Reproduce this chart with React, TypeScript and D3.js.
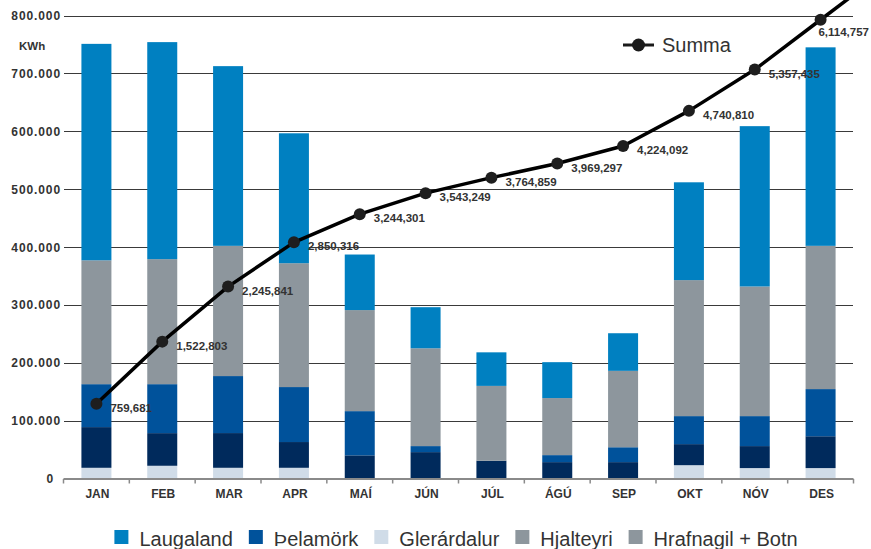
import * as React from 'react';
import * as d3 from 'd3';

const WIDTH = 871, HEIGHT = 549;

const months = ['JAN', 'FEB', 'MAR', 'APR', 'MAÍ', 'JÚN', 'JÚL', 'ÁGÚ', 'SEP', 'OKT', 'NÓV', 'DES'];

// stacked from the bottom up
const glerardalur = [18500, 22000, 18500, 18500, 0, 0, 0, 0, 0, 23000, 18000, 18000];
const hrafnagilBotn = [70300, 56400, 60000, 44500, 40000, 45600, 30700, 28300, 28300, 36400, 38000, 55000];
const thelamork = [74200, 84600, 98500, 95000, 76400, 10400, 0, 12100, 25700, 48400, 51800, 81500];
const hjalteyri = [214000, 216000, 225000, 214000, 174600, 169000, 129300, 98600, 132000, 235000, 224000, 247500];
const laugaland = [374000, 375000, 310500, 224500, 96000, 71000, 58000, 62000, 65000, 169000, 277000, 343000];

const summa = [759681, 1522803, 2245841, 2850316, 3244301, 3543249, 3764859, 3969297, 4224092, 4740810, 5357435, 6114757];

const yTicks = [0, 100000, 200000, 300000, 400000, 500000, 600000, 700000, 800000];

const stackKeys = ['Glerárdalur', 'Hrafnagil + Botn', 'Þelamörk', 'Hjalteyri', 'Laugaland'];
const stackValues = [glerardalur, hrafnagilBotn, thelamork, hjalteyri, laugaland];
const stackColors = ['#d0dce8', '#002a5c', '#00529b', '#8d969d', '#0080c1'];

const legendNames = ['Laugaland', 'Þelamörk', 'Glerárdalur', 'Hjalteyri', 'Hrafnagil + Botn'];
const legendColors = ['#0080c1', '#00529b', '#d0dce8', '#8d969d', '#8d969d'];

class App extends React.Component {

  // tslint:disable-next-line:no-any
  svgRef: React.RefObject<any>;

  constructor(props: {}) {
    super(props);
    this.svgRef = React.createRef();
  }

  componentDidMount() {
    document.body.style.margin = '0';

    const svg = d3
      .select(this.svgRef.current)
      .attr('width', WIDTH)
      .attr('height', HEIGHT)
      .style('display', 'block')
      .style('font-family', '"Liberation Sans", Arial, sans-serif');
    svg.selectAll('*').remove();

    const x = d3.scaleBand<string>().domain(months).range([63.5, 853.5]);
    const y = d3.scaleLinear().domain([0, 800000]).range([478.5, 15.5]);
    // the cumulative line sits on its own hidden axis
    const ySum = d3.scalePow().exponent(0.87).domain([0, 6180000]).range([y(0), y(800000)]);
    const cx = (m: string) => (x(m) as number) + x.bandwidth() / 2;
    const barW = 30;

    // gridlines + y labels
    svg.append('g')
      .selectAll('line')
      .data(yTicks.slice(1))
      .join('line')
      .attr('x1', 64).attr('x2', 853)
      .attr('y1', d => Math.round(y(d)) + 0.5)
      .attr('y2', d => Math.round(y(d)) + 0.5)
      .attr('stroke', '#3a3a3a')
      .attr('stroke-width', 1);

    const fmtTick = (v: number) => d3.format(',')(v).replace(/,/g, '.');
    svg.append('g')
      .selectAll('text')
      .data(yTicks)
      .join('text')
      .attr('x', d => d === 0 ? 54 : 61)
      .attr('y', d => y(d) + 4.5)
      .attr('text-anchor', 'end')
      .attr('font-size', 12)
      .attr('font-weight', 'bold')
      .attr('letter-spacing', 0.9)
      .attr('fill', '#333')
      .text(fmtTick);

    svg.append('text')
      .attr('x', 19).attr('y', 50)
      .attr('font-size', 11.5)
      .attr('font-weight', 'bold')
      .attr('fill', '#333')
      .text('KWh');

    // stacked bars
    const rows = months.map((m, i) => {
      const row: { [k: string]: number | string } = { month: m };
      stackKeys.forEach((k, j) => { row[k] = stackValues[j][i]; });
      return row;
    });
    // tslint:disable-next-line:no-any
    const series = d3.stack<any>().keys(stackKeys)(rows);

    svg.append('g')
      .selectAll('g')
      .data(series)
      .join('g')
      .attr('fill', (d, i) => stackColors[i])
      .selectAll('rect')
      .data(d => d)
      .join('rect')
      .attr('x', d => cx(d.data.month) - barW / 2)
      .attr('width', barW)
      .attr('y', d => y(d[1]))
      .attr('height', d => y(d[0]) - y(d[1]));

    // x axis
    const axis = svg.append('g');
    axis.append('line')
      .attr('x1', 63.5).attr('x2', 853.5)
      .attr('y1', 479).attr('y2', 479)
      .attr('stroke', '#8a8a8a')
      .attr('stroke-width', 2);
    const edges = months.map(m => x(m) as number).concat([x.range()[1]]);
    axis.selectAll('line.tick')
      .data(edges)
      .join('line')
      .attr('class', 'tick')
      .attr('x1', d => d).attr('x2', d => d)
      .attr('y1', 479).attr('y2', 483.5)
      .attr('stroke', '#8a8a8a')
      .attr('stroke-width', 1.5);
    axis.selectAll('text')
      .data(months)
      .join('text')
      .attr('x', d => cx(d) + 1)
      .attr('y', 498)
      .attr('text-anchor', 'middle')
      .attr('font-size', 12)
      .attr('font-weight', 'bold')
      .attr('fill', '#333')
      .text(d => d);

    // cumulative line
    const pts: [number, number][] = summa.map((v, i) => [cx(months[i]), ySum(v)]);
    const last = pts[pts.length - 1], prev = pts[pts.length - 2];
    const linePts = pts.concat([[last[0] + (last[0] - prev[0]) * 0.5, last[1] + (last[1] - prev[1]) * 0.5]]);

    svg.append('path')
      .attr('d', d3.line()(linePts))
      .attr('fill', 'none')
      .attr('stroke', '#000')
      .attr('stroke-width', 3.5)
      .attr('stroke-linejoin', 'round');

    svg.append('g')
      .selectAll('circle')
      .data(pts)
      .join('circle')
      .attr('cx', d => d[0])
      .attr('cy', d => d[1])
      .attr('r', 6)
      .attr('fill', '#1e1e1e');

    const lastIdx = summa.length - 1;
    svg.append('g')
      .selectAll('text')
      .data(summa)
      .join('text')
      .attr('x', (d, i) => i === lastIdx ? WIDTH - 2 : pts[i][0] + 14)
      .attr('y', (d, i) => pts[i][1] + (i === lastIdx ? 16 : 8))
      .attr('text-anchor', (d, i) => i === lastIdx ? 'end' : 'start')
      .attr('font-size', 11.5)
      .attr('font-weight', 'bold')
      .attr('fill', '#333')
      .text(d => d3.format(',')(d));

    // Summa legend
    const sl = svg.append('g');
    sl.append('line')
      .attr('x1', 623).attr('x2', 654)
      .attr('y1', 45).attr('y2', 45)
      .attr('stroke', '#1a1a1a')
      .attr('stroke-width', 3);
    sl.append('circle')
      .attr('cx', 638.5).attr('cy', 45).attr('r', 6.5)
      .attr('fill', '#1a1a1a');
    sl.append('text')
      .attr('x', 662).attr('y', 52)
      .attr('font-size', 20)
      .attr('fill', '#333')
      .text('Summa');

    // bottom legend
    const lg = svg.append('g');
    const items = legendNames.map((name, i) => {
      const g = lg.append('g');
      g.append('rect')
        .attr('width', 14).attr('height', 14)
        .attr('y', 530)
        .attr('fill', legendColors[i]);
      const t = g.append('text')
        .attr('x', 25).attr('y', 546)
        .attr('font-size', 20)
        .attr('fill', '#333')
        .text(name);
      const w = (t.node() as SVGTextElement).getComputedTextLength();
      return { g, w: 25 + w };
    });
    const gap = 16;
    const total = d3.sum(items, d => d.w) + gap * (items.length - 1);
    let pos = 456 - total / 2;
    items.forEach(it => {
      it.g.attr('transform', `translate(${pos},0)`);
      pos += it.w + gap;
    });
  }

  render() {
    return (
      <svg ref={this.svgRef} />
    );
  }

}

export default App;
